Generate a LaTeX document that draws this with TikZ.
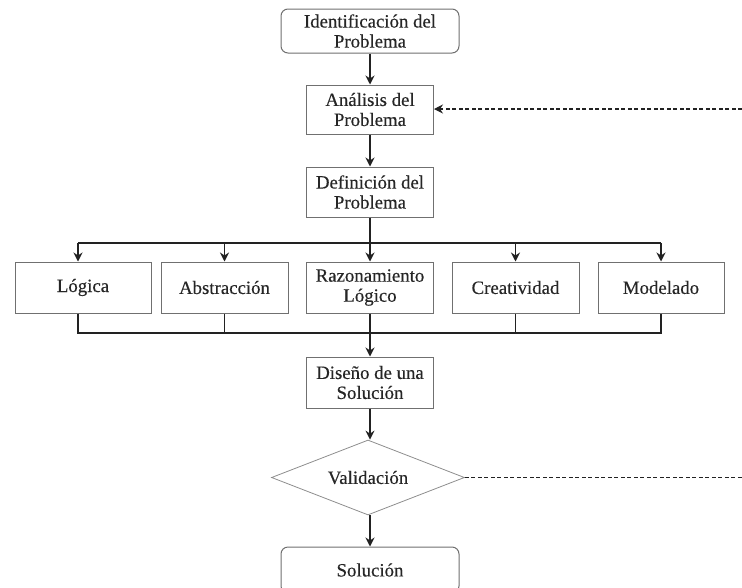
\documentclass[tikz,border=0pt]{standalone}
\usepackage{fontspec}
\setmainfont{Liberation Serif}[FakeBold=0.3]
\usetikzlibrary{shapes.geometric,arrows.meta,calc}
\definecolor{edge}{HTML}{707070}
\definecolor{wire}{HTML}{222222}
\tikzset{
  box/.style={draw=edge, line width=1pt, fill=white, inner sep=0pt, align=center,
    text=black!85, font=\fontsize{18.8}{20}\selectfont},
  term/.style={box, rounded corners=7pt},
  choice/.style={diamond, draw=edge!80, line width=0.8pt, inner sep=0pt, aspect=2.6,
    text=black!85, font=\fontsize{18.8}{20}\selectfont},
  tip/.style={-{Stealth[length=9pt,width=9pt,inset=3pt]}},
  link/.style={draw=wire, line width=1.3pt, tip},
  bus/.style={draw=wire, line width=1.3pt},
  loop/.style={draw=wire, line width=1.1pt, dash pattern=on 4pt off 2.5pt},
}
\begin{document}
\begin{tikzpicture}[x=1pt,y=-1pt]
\useasboundingbox (0,0) rectangle (742,587);
\clip (0,0) rectangle (742,587);

% main column
\node[term, minimum width=178pt, minimum height=44pt] (ident) at (370,31) {Identificación del\\Problema};
\node[box, minimum width=127pt, minimum height=49pt] (anal) at (370,109.5) {Análisis del\\Problema};
\node[box, minimum width=127pt, minimum height=50pt] (defi) at (370,192) {Definición del\\Problema};

% skills row
\node[box, minimum width=136pt, minimum height=51pt] (logi) at (83,287.5) {Lógica};
\node[box, minimum width=127pt, minimum height=51pt] (abst) at (224.5,287.5) {Abstracción};
\node[box, minimum width=127pt, minimum height=51pt] (razo) at (370,287.5) {Razonamiento\\Lógico};
\node[box, minimum width=127pt, minimum height=51pt] (crea) at (515.5,287.5) {Creatividad};
\node[box, minimum width=126pt, minimum height=51pt] (mode) at (661,287.5) {Modelado};

\node[box, minimum width=127pt, minimum height=51pt] (dise) at (370,382.5) {Diseño de una\\Solución};
\node[choice, minimum width=193pt, minimum height=75pt] (vali) at (368,477.5) {Validación};
\node[term, minimum width=178pt, minimum height=46pt] (solu) at (370,570) {Solución};

% branch points
\coordinate (fork) at (370,243);
\coordinate (join) at (370,333);
\coordinate (lx) at (78,0);
\coordinate (reenter) at (742,109);
\coordinate (exit) at (742,477.5);

% connectors
\draw[link] (ident) -- (anal);
\draw[link] (anal) -- (defi);
\draw[bus] (defi) -- (fork);
\draw[bus] (lx |- fork) -- (mode.north |- fork);
\draw[link] (lx |- fork) -- (lx |- logi.north);
\draw[link] (abst.north |- fork) -- (abst.north);
\draw[link] (fork) -- (razo.north);
\draw[link] (crea.north |- fork) -- (crea.north);
\draw[link] (mode.north |- fork) -- (mode.north);

\draw[bus] (lx |- logi.south) -- (lx |- join) -- (mode.south |- join) -- (mode.south);
\draw[bus] (abst.south) -- (abst.south |- join);
\draw[bus] (crea.south) -- (crea.south |- join);
\draw[bus] (razo.south) -- (join);
\draw[link] (join) -- (dise);

\draw[link] (dise) -- (dise |- vali.north);
\draw[link] (vali.south -| solu) -- (solu);

% feedback loop
\draw[loop] (vali.east) -- (exit);
\draw[loop, tip] (reenter) -- (anal.east |- reenter);
\end{tikzpicture}
\end{document}
